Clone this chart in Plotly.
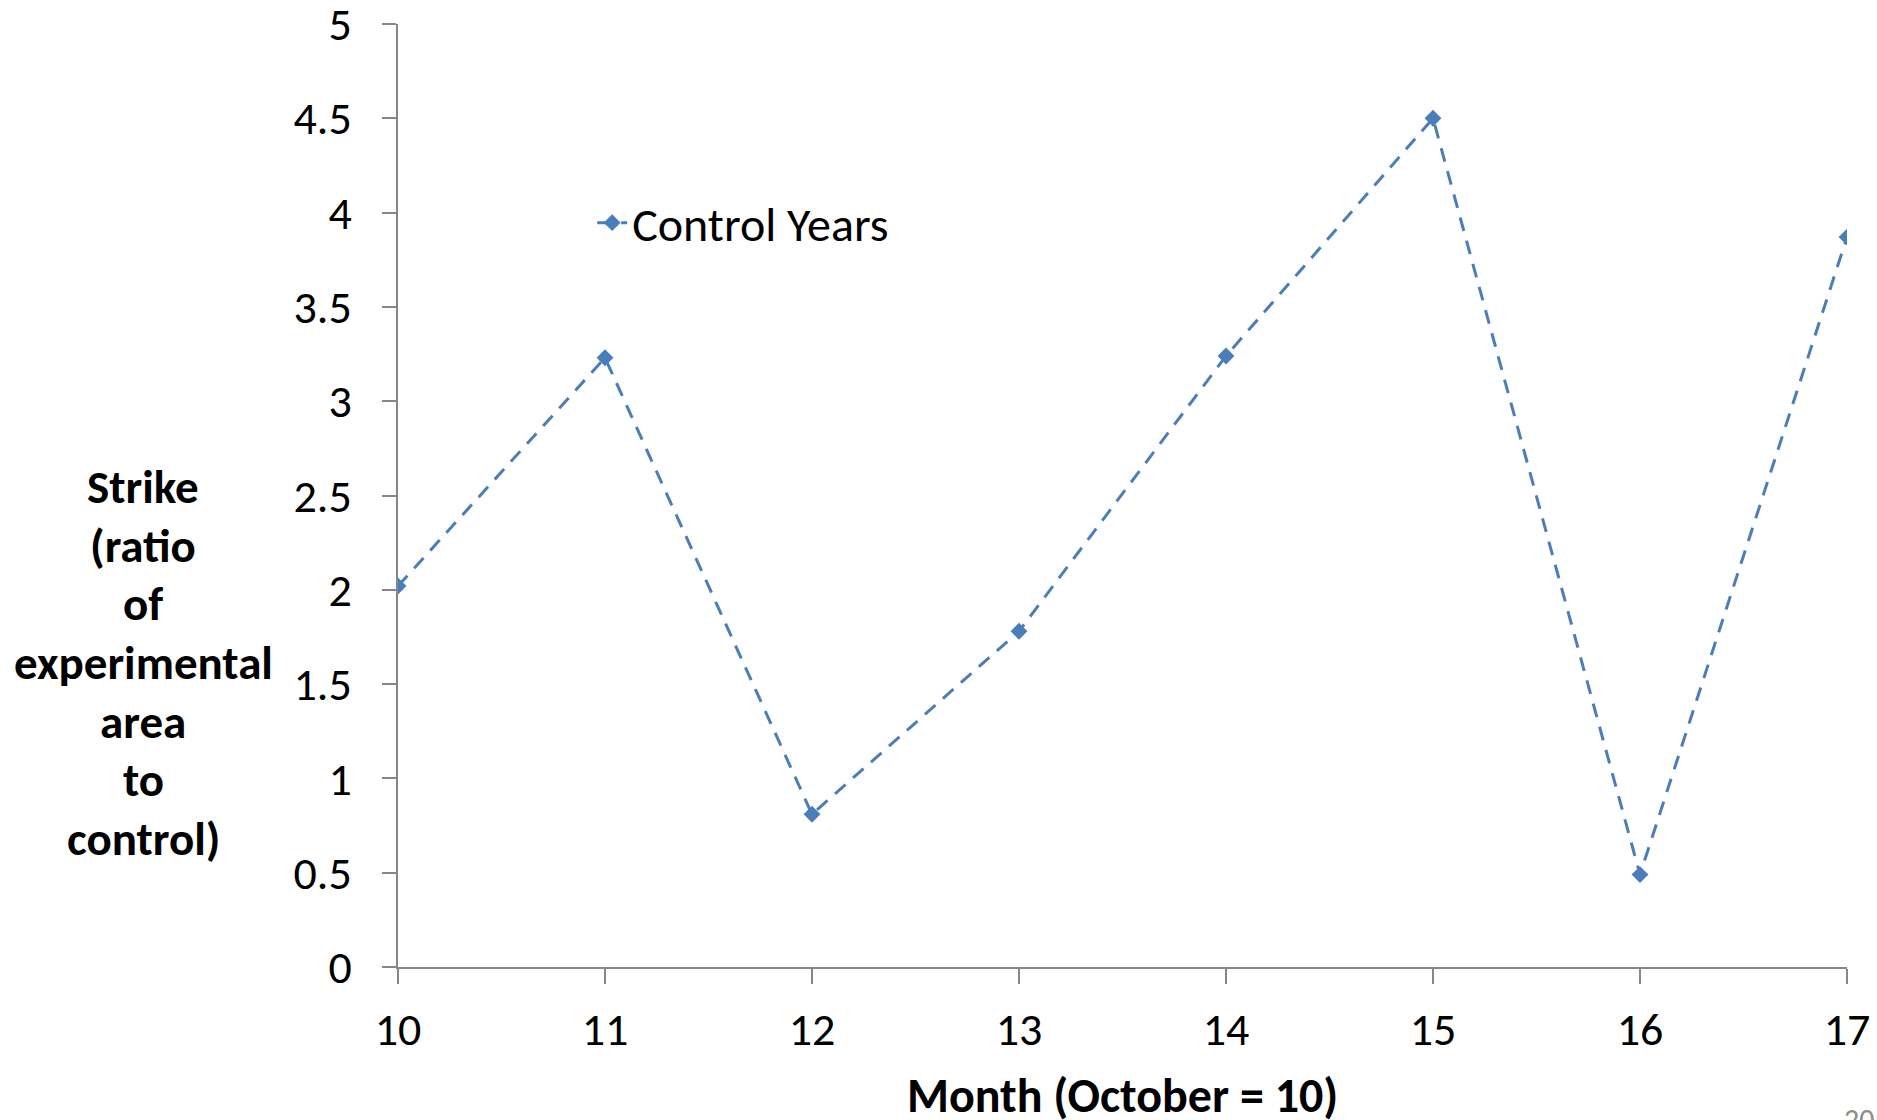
import plotly.graph_objects as go

# Strike ratio by month (October = 10)
months = [10, 11, 12, 13, 14, 15, 16, 17]
control_years = [2.02, 3.23, 0.81, 1.78, 3.24, 4.5, 0.49, 3.87]
series_name = "Control Years"

y_ticks = [0, 0.5, 1, 1.5, 2, 2.5, 3, 3.5, 4, 4.5, 5]
y_tick_text = ["0", "0.5", "1", "1.5", "2", "2.5", "3", "3.5", "4", "4.5", "5"]
x_title = "Month (October = 10)"
y_title_lines = ["Strike", "(ratio", "of", "experimental", "area", "to", "control)"]
page_number = "20"

BLUE = "#4A7EBB"
AXIS = "#868686"
FONT = "Carlito, Lato, sans-serif"

fig = go.Figure()
fig.add_trace(go.Scatter(
    x=months, y=control_years, name=series_name, mode="lines+markers",
    line=dict(color=BLUE, width=3, dash="14px,10px"),
    marker=dict(symbol="diamond", size=13, color=BLUE),
))

fig.update_layout(
    width=1877, height=1120,
    margin=dict(l=398, r=30, t=24, b=153, autoexpand=False),
    paper_bgcolor="white", plot_bgcolor="white",
    font=dict(family=FONT, color="black", size=45),
    showlegend=True,
    legend=dict(x=0.134, y=0.789, xanchor="left", yanchor="middle",
                bgcolor="rgba(0,0,0,0)", font=dict(size=48, family=FONT)),
)
fig.update_xaxes(
    range=[10, 17], tickvals=months, ticktext=[str(m) for m in months],
    automargin=False, ticklabeloverflow="allow",
    showgrid=False, zeroline=False, showline=True, linecolor=AXIS, linewidth=2,
    ticks="outside", ticklen=15, tickwidth=2, tickcolor=AXIS,
    tickfont=dict(size=46, family=FONT), ticklabelstandoff=6,
)
fig.update_yaxes(
    range=[0, 5], tickvals=y_ticks, ticktext=y_tick_text,
    automargin=False, ticklabeloverflow="allow",
    showgrid=False, zeroline=False, showline=True, linecolor=AXIS, linewidth=2,
    ticks="outside", ticklen=14, tickwidth=2, tickcolor=AXIS,
    tickfont=dict(size=46, family=FONT), ticklabelstandoff=21,
)

# x-axis title placed below the tick labels
fig.add_annotation(
    xref="paper", yref="paper", x=0.5, y=0, xanchor="center", yanchor="middle",
    yshift=-128, text="<b>" + x_title + "</b>", showarrow=False,
    font=dict(size=48, family=FONT),
)

# Horizontal multi-line y-axis title, one line per annotation
line_gap = 58.7
center_px = 663  # vertical centre of the title block, from the top of the page
n = len(y_title_lines)
for i, line in enumerate(y_title_lines):
    fig.add_annotation(
        xref="paper", yref="paper", x=0, y=0.5, xanchor="center", yanchor="middle",
        xshift=-255, yshift=-((i - (n - 1) / 2) * line_gap) - (center_px - 24 - 943 / 2),
        text="<b>" + line + "</b>", showarrow=False, font=dict(size=47, family=FONT),
    )

fig.add_annotation(
    xref="paper", yref="paper", x=1, y=0, xanchor="left", yanchor="top",
    xshift=-5, yshift=-132, text=page_number, showarrow=False,
    font=dict(size=30, color="#8C8C8C", family=FONT),
)

fig.write_html("out.html")
